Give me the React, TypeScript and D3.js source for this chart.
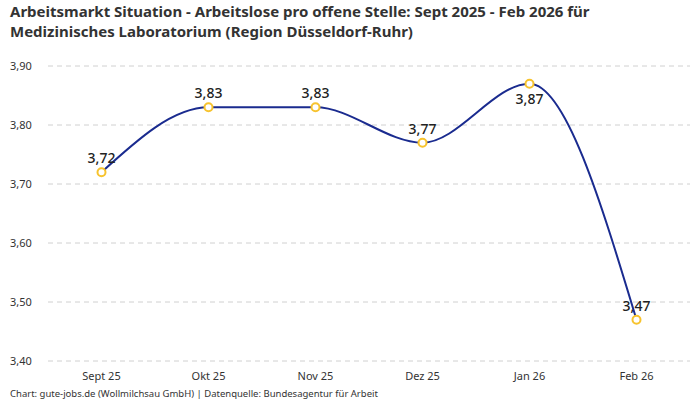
import React from 'react';
import { scaleBand, scaleLinear, line, curveMonotoneX } from 'd3';

const months = ['Sept 25', 'Okt 25', 'Nov 25', 'Dez 25', 'Jan 26', 'Feb 26'];
const values = [3.72, 3.83, 3.83, 3.77, 3.87, 3.47];
const yTicks = [3.4, 3.5, 3.6, 3.7, 3.8, 3.9];
// label below the point for these indexes
const labelBelow = [false, false, false, false, true, false];

const W = 700;
const H = 400;
const fmt = (v: number) => v.toFixed(2).replace('.', ',');
const font = '"Noto Sans", sans-serif';

const App = () => {
  const x = scaleBand().domain(months).range([48, 690]);
  const y = scaleLinear().domain([3.4, 3.9]).range([361, 66]);
  const cx = (i: number) => (x(months[i]) || 0) + x.bandwidth() / 2;

  const path = line<number>()
    .x((d, i) => cx(i))
    .y((d) => y(d))
    .curve(curveMonotoneX)(values);

  return (
    <svg width={W} height={H} style={{ position: 'absolute', left: 0, top: 0, fontFamily: font }}>
      <rect width={W} height={H} fill="#fff" />
      <text x={10} y={16.5} fontSize={15} fontWeight="bold" fill="#333">
        Arbeitsmarkt Situation - Arbeitslose pro offene Stelle: Sept 2025 - Feb 2026 für
      </text>
      <text x={10} y={37} fontSize={15} fontWeight="bold" fill="#333">
        Medizinisches Laboratorium (Region Düsseldorf-Ruhr)
      </text>

      {yTicks.map((t) => (
        <g key={t}>
          <line x1={48} x2={690} y1={y(t)} y2={y(t)} stroke="#d0d0d0" strokeDasharray="5,4" />
          <text x={10} y={y(t) + 4} fontSize={11} fill="#333">
            {fmt(t)}
          </text>
        </g>
      ))}

      {months.map((m, i) => (
        <text key={m} x={cx(i)} y={380} fontSize={11} fill="#333" textAnchor="middle">
          {m}
        </text>
      ))}

      <path d={path || ''} fill="none" stroke="#1a2b8f" strokeWidth={2} />

      {values.map((v, i) => (
        <g key={i}>
          <circle cx={cx(i)} cy={y(v)} r={4} fill="#fff" stroke="#f7c32e" strokeWidth={2} />
          <text
            x={cx(i)}
            y={labelBelow[i] ? y(v) + 20 : y(v) - 9}
            fontSize={14}
            fontWeight={500}
            fill="#222"
            textAnchor="middle"
          >
            {fmt(v)}
          </text>
        </g>
      ))}

      <text x={10} y={397} fontSize={9.5} fill="#333">
        Chart: gute-jobs.de (Wollmilchsau GmbH) | Datenquelle: Bundesagentur für Arbeit
      </text>
    </svg>
  );
};

export default App;
